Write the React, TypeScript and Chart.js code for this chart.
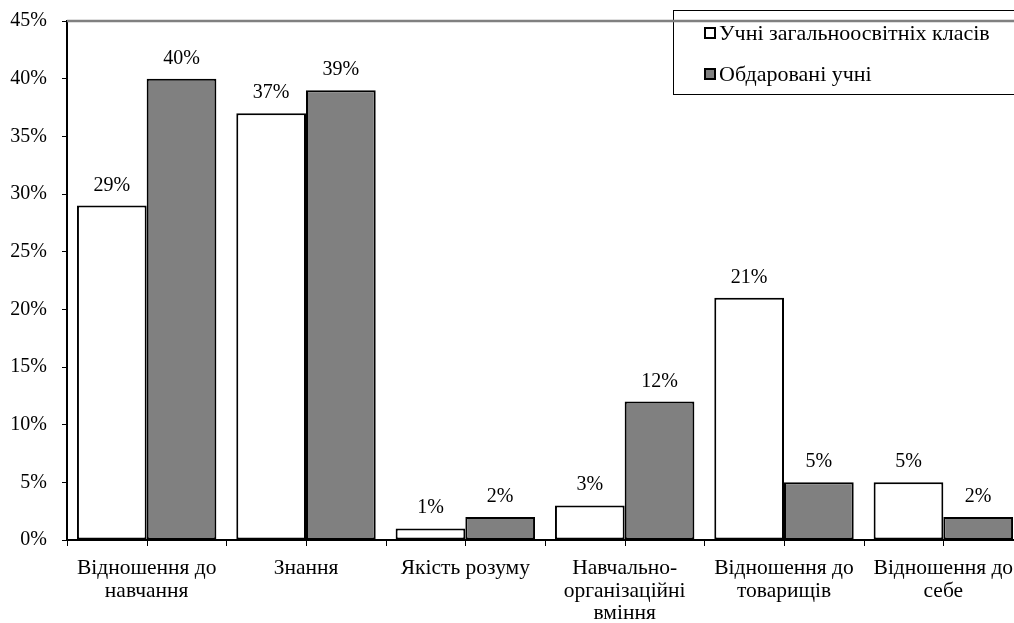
import React, { useEffect, useRef } from "react";
import { Chart, registerables } from "chart.js";

Chart.register(...registerables);

const categories: string[][] = [
  ["Відношення до", "навчання"],
  ["Знання"],
  ["Якість розуму"],
  ["Навчально-", "організаційні", "вміння"],
  ["Відношення до", "товарищів"],
  ["Відношення до", "себе"],
];
const generalStudents = [29, 37, 1, 3, 21, 5];
const giftedStudents = [40, 39, 2, 12, 5, 2];
const seriesNames = ["Учні загальноосвітніх класів", "Обдаровані учні"];
const seriesColors = ["#ffffff", "#808080"];

const FONT = "'Liberation Serif', 'Times New Roman', serif";
const NUM_SIZE = 20;
const LABEL_SIZE = 21.5;
const LEGEND_SIZE = 22;

// Value labels over each bar
const barLabels = {
  id: "barLabels",
  afterDatasetsDraw(chart: any) {
    const { ctx } = chart;
    ctx.save();
    ctx.font = `${NUM_SIZE}px ${FONT}`;
    ctx.fillStyle = "#000";
    ctx.textAlign = "center";
    ctx.textBaseline = "alphabetic";
    chart.data.datasets.forEach((ds: any, di: number) => {
      const meta = chart.getDatasetMeta(di);
      meta.data.forEach((bar: any, i: number) => {
        ctx.fillText(`${ds.data[i]}%`, bar.x, bar.y - 15);
      });
    });
    ctx.restore();
  },
};

// Tick marks under the category axis, at group edges and group centres
const categoryTicks = {
  id: "categoryTicks",
  afterDraw(chart: any) {
    const { ctx, chartArea } = chart;
    const n = chart.data.labels.length * 2;
    const step = (chartArea.right - chartArea.left) / n;
    ctx.save();
    ctx.strokeStyle = "#000";
    ctx.lineWidth = 1;
    for (let i = 0; i <= n; i++) {
      const x = Math.round(chartArea.left + i * step) + 0.5;
      ctx.beginPath();
      ctx.moveTo(x, chartArea.bottom);
      ctx.lineTo(x, chartArea.bottom + 6);
      ctx.stroke();
    }
    ctx.restore();
  },
};

// Boxed legend in the top-right corner plus the grey upper frame line
const boxedLegend = {
  id: "boxedLegend",
  afterDraw(chart: any) {
    const { ctx, chartArea } = chart;
    ctx.save();
    ctx.fillStyle = "#fff";
    ctx.fillRect(673, 10, 400, 85);
    ctx.strokeStyle = "#000";
    ctx.lineWidth = 1;
    ctx.strokeRect(673.5, 10.5, 400, 84);

    ctx.strokeStyle = "#808080";
    ctx.lineWidth = 2.5;
    ctx.beginPath();
    ctx.moveTo(chartArea.left, chartArea.top);
    ctx.lineTo(chartArea.right + 20, chartArea.top);
    ctx.stroke();

    ctx.font = `${LEGEND_SIZE}px ${FONT}`;
    ctx.textAlign = "left";
    ctx.textBaseline = "alphabetic";
    const rows = [33, 74];
    seriesNames.forEach((name, i) => {
      const y = rows[i];
      ctx.fillStyle = seriesColors[i];
      ctx.fillRect(705, y - 5, 10, 10);
      ctx.strokeStyle = "#000";
      ctx.lineWidth = 2;
      ctx.strokeRect(705, y - 5, 10, 10);
      ctx.fillStyle = "#000";
      ctx.fillText(name, 719, y + 7);
    });
    ctx.restore();
  },
};

export default function App() {
  const canvasRef = useRef<HTMLCanvasElement | null>(null);

  useEffect(() => {
    const canvas = canvasRef.current;
    if (!canvas) return;
    const chart = new Chart(canvas, {
      type: "bar",
      data: {
        labels: categories,
        datasets: [
          {
            label: seriesNames[0],
            data: generalStudents,
            backgroundColor: seriesColors[0],
            borderColor: "#000",
            borderWidth: 2,
            borderSkipped: false,
          },
          {
            label: seriesNames[1],
            data: giftedStudents,
            backgroundColor: seriesColors[1],
            borderColor: "#000",
            borderWidth: 2,
            borderSkipped: false,
          },
        ],
      },
      options: {
        responsive: false,
        animation: false,
        devicePixelRatio: 1,
        layout: { padding: { top: 21, right: 7, left: 0, bottom: 0 } },
        datasets: { bar: { categoryPercentage: 0.875, barPercentage: 1 } },
        plugins: { legend: { display: false }, tooltip: { enabled: false } },
        scales: {
          x: {
            grid: { display: false },
            border: { display: true, color: "#000", width: 2 },
            ticks: {
              color: "#000",
              font: { family: FONT, size: LABEL_SIZE, lineHeight: 1.05 },
              padding: 9,
              maxRotation: 0,
              autoSkip: false,
            },
            afterFit(scale: any) {
              scale.height = 83;
              scale.paddingLeft = 0;
              scale.paddingRight = 0;
            },
          },
          y: {
            min: 0,
            max: 45,
            ticks: {
              stepSize: 5,
              color: "#000",
              font: { family: FONT, size: NUM_SIZE },
              padding: 15,
              callback: (v: any) => `${v}%`,
            },
            grid: {
              drawOnChartArea: false,
              drawTicks: true,
              tickLength: 5,
              color: "#000",
              lineWidth: 1,
            },
            border: { display: true, color: "#000", width: 2 },
            afterFit(scale: any) {
              scale.width = 67;
              scale.paddingTop = 0;
              scale.paddingBottom = 0;
            },
          },
        },
      },
      plugins: [barLabels, categoryTicks, boxedLegend],
    });
    return () => chart.destroy();
  }, []);

  return (
    <div
      style={{
        position: "fixed",
        left: 0,
        top: 0,
        width: 1014,
        height: 623,
        overflow: "hidden",
        background: "#fff",
      }}
    >
      <canvas ref={canvasRef} width={1030} height={623} style={{ display: "block" }} />
    </div>
  );
}
